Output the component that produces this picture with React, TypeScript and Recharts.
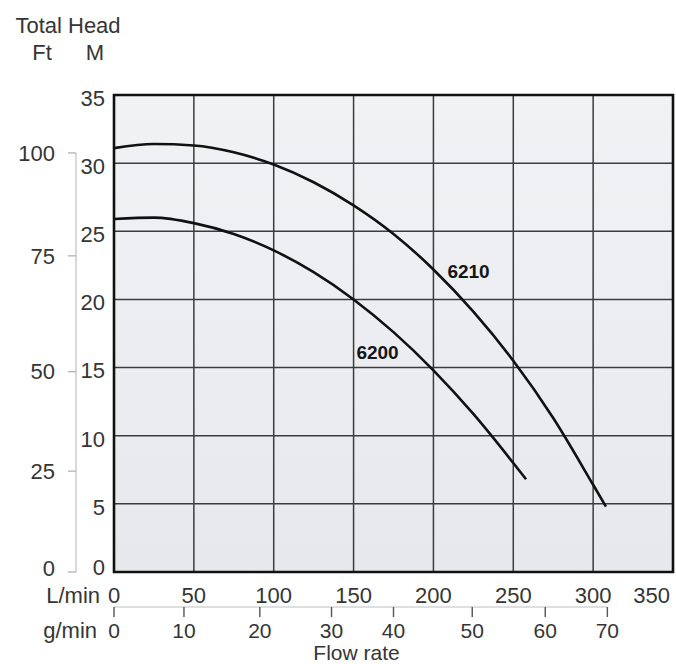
import React from 'react';
import {
  LineChart,
  Line,
  XAxis,
  YAxis,
  CartesianGrid,
  ReferenceArea,
  ReferenceDot,
  Label,
} from 'recharts';

// ---- data ----
const flowTicks = [0, 50, 100, 150, 200, 250, 300, 350];
const headTicksM = [0, 5, 10, 15, 20, 25, 30, 35];
const ftLabels = [0, 25, 50, 75, 100];
const ftTickPositionsM = [0, 7.4, 14.7, 23.2, 30.75];
const gpmLabels = [0, 10, 20, 30, 40, 50, 60, 70];
const gpmTickPositionsL = [0, 43.8, 91.3, 136.2, 175, 224.3, 270, 308.9];

const flow6210 = [0, 25, 50, 75, 100, 125, 150, 175, 200, 225, 250, 275, 300, 308];
const head6210 = [31.1, 31.4, 31.3, 30.8, 29.9, 28.6, 26.9, 24.8, 22.2, 19.1, 15.5, 11.3, 6.4, 4.8];
const flow6200 = [0, 25, 50, 75, 100, 125, 150, 175, 200, 225, 250, 258];
const head6200 = [25.9, 26.0, 25.6, 24.8, 23.6, 22.0, 20.0, 17.6, 14.8, 11.6, 8.0, 6.8];

const curveNames = ['6210', '6200'];
const curveLabelFlow = [222, 165];
const curveLabelHead = [22.1, 16.15];

// ---- layout / style ----
const W = 676;
const H = 664;
const PLOT_LEFT = 114;
const PLOT_RIGHT = 673;
const PLOT_TOP = 95;
const PLOT_BOTTOM = 572;
const PLOT_W = PLOT_RIGHT - PLOT_LEFT;
const PLOT_H = PLOT_BOTTOM - PLOT_TOP;
const FLOW_MAX = 350;
const HEAD_MAX = 35;

const M_AXIS_W = 38;
const FT_AXIS_W = 60;
const L_AXIS_H = 35;
const G_AXIS_H = 57;

const FONT = "'Liberation Sans', Arial, Helvetica, sans-serif";
const TEXT = '#353535';

const data6210 = flow6210.map((f, i) => ({ flow: f, head: head6210[i] }));
const data6200 = flow6200.map((f, i) => ({ flow: f, head: head6200[i] }));
const seriesData = [data6210, data6200];

const ftGap = (PLOT_H * (HEAD_MAX - ftTickPositionsM[ftTickPositionsM.length - 1])) / HEAD_MAX;
const ftDash = `0 ${ftGap.toFixed(1)} ${(PLOT_H - ftGap + 2).toFixed(1)} 2000`;
const gDash = `${((PLOT_W * gpmTickPositionsL[gpmTickPositionsL.length - 1]) / FLOW_MAX).toFixed(1)} 2000`;

const tickStyle = { fontSize: 22, fill: TEXT, fontFamily: FONT };
const labelStyle = { fontSize: 22, fill: TEXT, fontFamily: FONT };

// axis ids: "A" = metres (next to the plot), "B" = feet (outer)
const M_ID = 'A';
const FT_ID = 'B';

const FlowTick = (props: any) => {
  const { x, y, payload } = props;
  const last = payload.value === FLOW_MAX;
  return (
    <text
      x={last ? x - 3 : x}
      y={y}
      dy="0.71em"
      textAnchor={last ? 'end' : 'middle'}
      fontSize={22}
      fill={TEXT}
      fontFamily={FONT}
    >
      {payload.value}
    </text>
  );
};

const MetreTick = (props: any) => {
  const { x, y, payload } = props;
  const shift = payload.value === 0 ? -5 : 3;
  return (
    <text x={x} y={y + shift} dy="0.355em" textAnchor="end" fontSize={22} fill={TEXT} fontFamily={FONT}>
      {payload.value}
    </text>
  );
};

const FeetTick = (props: any) => {
  const { x, y, payload } = props;
  const shift = payload.value === 0 ? -4 : 0;
  return (
    <text x={x} y={y + shift} dy="0.355em" textAnchor="end" fontSize={22} fill={TEXT} fontFamily={FONT}>
      {String(ftLabels[ftTickPositionsM.indexOf(payload.value)])}
    </text>
  );
};

export default function App() {
  return (
    <div style={{ position: 'absolute', left: 0, top: 0, width: W, height: H, background: '#fff' }}>
      <LineChart
        width={W}
        height={H}
        margin={{ top: PLOT_TOP, right: W - PLOT_RIGHT, bottom: 0, left: PLOT_LEFT - M_AXIS_W - FT_AXIS_W }}
      >
        <defs>
          <linearGradient id="plotBg" x1="0" y1="0" x2="0" y2="1">
            <stop offset="0%" stopColor="#f1f2f4" />
            <stop offset="45%" stopColor="#eceef1" />
            <stop offset="100%" stopColor="#e6e8eb" />
          </linearGradient>
        </defs>
        <CartesianGrid
          xAxisId="L"
          yAxisId={M_ID}
          fill="url(#plotBg)"
          stroke="#3c3c3c"
          strokeWidth={1.5}
        />
        <XAxis
          xAxisId="L"
          dataKey="flow"
          type="number"
          domain={[0, FLOW_MAX]}
          ticks={flowTicks}
          allowDataOverflow
          height={L_AXIS_H}
          axisLine={false}
          tickLine={false}
          tickSize={0}
          tickMargin={15}
          tick={<FlowTick />}
          interval={0}
          label={{ value: 'L/min', position: 'left', offset: 14, dy: 6, ...labelStyle }}
        />
        <XAxis
          xAxisId="g"
          dataKey="flow"
          type="number"
          domain={[0, FLOW_MAX]}
          ticks={gpmTickPositionsL}
          allowDataOverflow
          height={G_AXIS_H}
          axisLine={{ stroke: '#d2d4d6', strokeWidth: 1.5, strokeDasharray: gDash }}
          tickLine={{ stroke: '#555', strokeWidth: 1.4 }}
          tickSize={10}
          tickMargin={6}
          tick={{ ...tickStyle, fontSize: 21 }}
          interval={0}
          tickFormatter={(v: number) => String(gpmLabels[gpmTickPositionsL.indexOf(v)])}
          label={{ value: 'g/min', position: 'left', offset: 17, dy: -5, ...labelStyle }}
        >
          <Label value="Flow rate" position="insideBottom" offset={4} dx={-37} {...labelStyle} fontSize={21} />
        </XAxis>
        <YAxis
          yAxisId={M_ID}
          type="number"
          domain={[0, HEAD_MAX]}
          ticks={headTicksM}
          allowDataOverflow
          width={M_AXIS_W}
          axisLine={false}
          tickLine={false}
          tickSize={0}
          tickMargin={9}
          tick={<MetreTick />}
          interval={0}
          label={{ value: 'M', position: 'top', offset: 35, ...labelStyle }}
        />
        <YAxis
          yAxisId={FT_ID}
          type="number"
          domain={[0, HEAD_MAX]}
          ticks={ftTickPositionsM}
          allowDataOverflow
          width={FT_AXIS_W}
          axisLine={{ stroke: '#c9cbcd', strokeWidth: 1.5, strokeDasharray: ftDash }}
          tickLine={{ stroke: '#b5b7b9', strokeWidth: 1.4 }}
          tickSize={8}
          tickMargin={13}
          tick={<FeetTick />}
          interval={0}
          label={{ value: 'Ft', position: 'top', offset: 35, dx: -4, ...labelStyle }}
        >
          <Label value="Total Head" position="top" offset={62} dx={22} {...labelStyle} />
        </YAxis>
        <ReferenceArea
          xAxisId="L"
          yAxisId={M_ID}
          x1={0}
          x2={FLOW_MAX}
          y1={0}
          y2={HEAD_MAX}
          fill="none"
          fillOpacity={0}
          stroke="#111"
          strokeWidth={2.6}
          ifOverflow="visible"
        />
        {seriesData.map((d, i) => (
          <Line
            key={curveNames[i]}
            xAxisId="L"
            yAxisId={M_ID}
            data={d}
            dataKey="head"
            name={curveNames[i]}
            type="monotone"
            stroke="#111"
            strokeWidth={2.6}
            dot={false}
            activeDot={false}
            isAnimationActive={false}
          />
        ))}
        {curveNames.map((n, i) => (
          <ReferenceDot
            key={'lbl' + n}
            xAxisId="L"
            yAxisId={M_ID}
            x={curveLabelFlow[i]}
            y={curveLabelHead[i]}
            r={0}
            fill="none"
            stroke="none"
            ifOverflow="visible"
            label={{
              value: n,
              position: 'center',
              fontSize: 19,
              fontWeight: 'bold',
              fill: '#161616',
              fontFamily: "'Liberation Sans Narrow', 'Arial Narrow', 'Liberation Sans', sans-serif",
            }}
          />
        ))}
      </LineChart>
    </div>
  );
}
